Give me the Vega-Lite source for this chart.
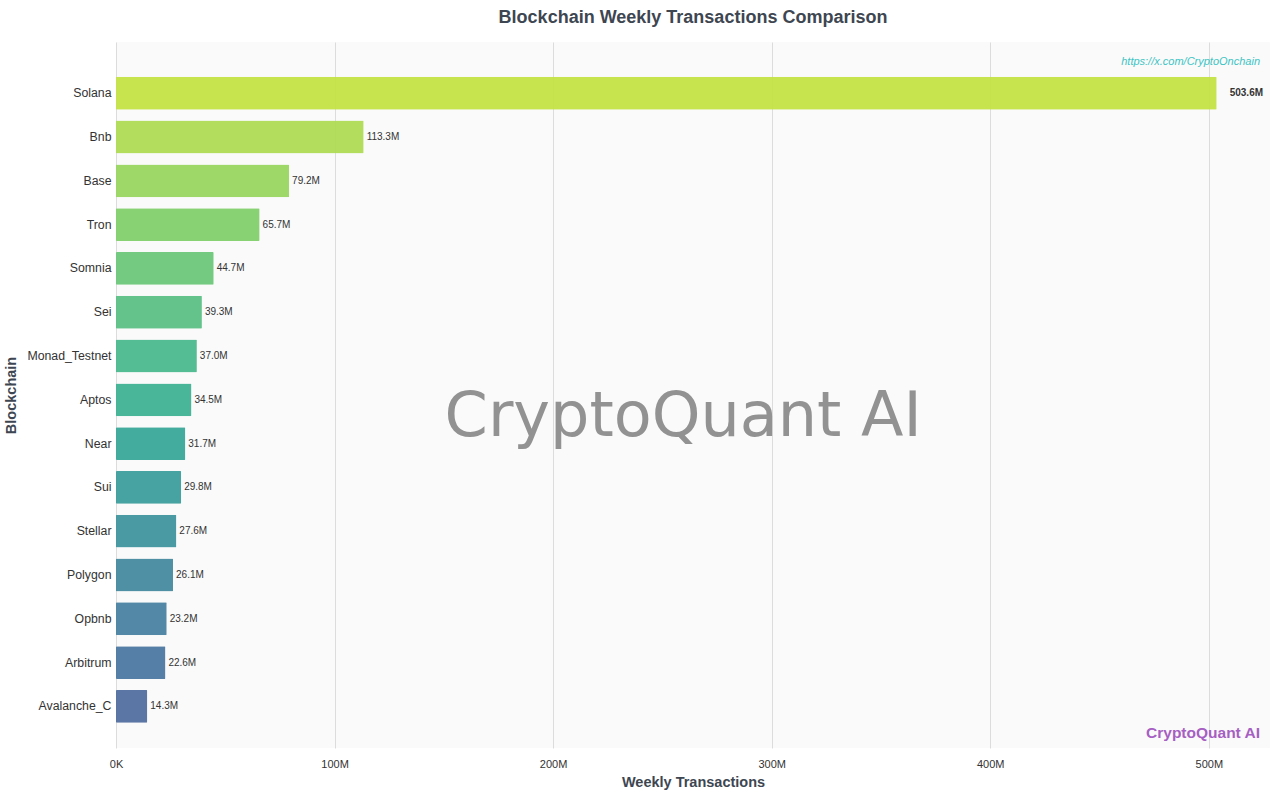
{
  "$schema": "https://vega.github.io/schema/vega-lite/v6.json",
  "width": 1154,
  "height": 706,
  "padding": {"left": 3, "top": 9, "right": 10, "bottom": 5},
  "background": "white",
  "config": {
    "font": "Liberation Sans",
    "view": {"fill": "#fafafa", "stroke": null}
  },
  "title": {
    "text": "Blockchain Weekly Transactions Comparison",
    "fontSize": 18,
    "fontWeight": "bold",
    "color": "#3d4651",
    "offset": 15,
    "anchor": "middle"
  },
  "layer": [
    {
      "data": {"name": "main"},
      "mark": {"type": "bar", "cornerRadius": 1, "opacity": 0.92},
      "encoding": {
        "y": {
          "field": "name",
          "type": "nominal",
          "sort": null,
          "scale": {"paddingInner": 0.25, "paddingOuter": 0.685, "align": 0.58},
          "axis": {
            "title": "Blockchain",
            "titleFontSize": 14.5,
            "titleFontWeight": "bold",
            "titleColor": "#3d4651",
            "titlePadding": 8,
            "labelFontSize": 12.3,
            "labelColor": "#333333",
            "labelPadding": 5,
            "ticks": false,
            "domain": false,
            "grid": false
          }
        },
        "x": {
          "field": "tx",
          "type": "quantitative",
          "scale": {"domain": [0, 528], "nice": false},
          "axis": {
            "title": "Weekly Transactions",
            "titleFontSize": 14.5,
            "titleFontWeight": "bold",
            "titleColor": "#3d4651",
            "titlePadding": 6,
            "values": [0, 100, 200, 300, 400, 500],
            "labelExpr": "datum.value == 0 ? '0K' : datum.value + 'M'",
            "labelFontSize": 11,
            "labelColor": "#333333",
            "labelPadding": 10,
            "labelFlush": false,
            "ticks": false,
            "domain": false,
            "grid": true,
            "gridColor": "#dcdcdc",
            "gridWidth": 1
          }
        },
        "color": {
          "field": "name",
          "type": "nominal",
          "legend": null,
          "scale": {
            "domain": ["Solana", "Bnb", "Base", "Tron", "Somnia", "Sei", "Monad_Testnet", "Aptos", "Near", "Sui", "Stellar", "Polygon", "Opbnb", "Arbitrum", "Avalanche_C"],
            "range": ["#c2e23f", "#acdb4f", "#95d55b", "#7fce67", "#69c676", "#56be80", "#46b78a", "#3ab091", "#33a596", "#379b99", "#3b919b", "#40879d", "#447e9e", "#48749f", "#4d699c"]
          }
        }
      }
    },
    {
      "data": {"name": "main"},
      "transform": [{"filter": "datum.tx < 500"}, {"calculate": "format(datum.tx, '.1f') + 'M'", "as": "lbl"}],
      "mark": {"type": "text", "align": "left", "baseline": "middle", "dx": 3, "fontSize": 10, "color": "#333333"},
      "encoding": {
        "y": {"field": "name", "type": "nominal", "sort": null},
        "x": {"field": "tx", "type": "quantitative"},
        "text": {"field": "lbl", "type": "nominal"}
      }
    },
    {
      "data": {"name": "main"},
      "transform": [{"filter": "datum.tx >= 500"}, {"calculate": "format(datum.tx, '.1f') + 'M'", "as": "lbl"}],
      "mark": {"type": "text", "align": "left", "baseline": "middle", "dx": 13, "fontSize": 10, "fontWeight": "bold", "color": "#333333"},
      "encoding": {
        "y": {"field": "name", "type": "nominal", "sort": null},
        "x": {"field": "tx", "type": "quantitative"},
        "text": {"field": "lbl", "type": "nominal"}
      }
    },
    {
      "data": {"name": "notes"},
      "transform": [{"filter": "datum.kind == 'big'"}],
      "mark": {"type": "text", "align": "center", "baseline": "middle", "fontSize": 62, "font": "DejaVu Sans", "color": "#808080", "opacity": 0.85, "dy": 17},
      "encoding": {
        "x": {"datum": 259.5, "type": "quantitative"},
        "y": {"datum": "Aptos", "type": "nominal"},
        "text": {"field": "t", "type": "nominal"}
      }
    },
    {
      "data": {"name": "notes"},
      "transform": [{"filter": "datum.kind == 'url'"}],
      "mark": {"type": "text", "align": "right", "baseline": "middle", "fontSize": 11, "fontStyle": "italic", "color": "#3cc4c4", "dy": -31, "dx": -10},
      "encoding": {
        "x": {"datum": 528, "type": "quantitative"},
        "y": {"datum": "Solana", "type": "nominal"},
        "text": {"field": "t", "type": "nominal"}
      }
    },
    {
      "data": {"name": "notes"},
      "transform": [{"filter": "datum.kind == 'brand'"}],
      "mark": {"type": "text", "align": "right", "baseline": "middle", "fontSize": 15.5, "fontWeight": "bold", "color": "#a65fc2", "dy": 27, "dx": -10},
      "encoding": {
        "x": {"datum": 528, "type": "quantitative"},
        "y": {"datum": "Avalanche_C", "type": "nominal"},
        "text": {"field": "t", "type": "nominal"}
      }
    }
  ],
  "datasets": {
    "main": [
      {"name": "Solana", "tx": 503.6},
      {"name": "Bnb", "tx": 113.3},
      {"name": "Base", "tx": 79.2},
      {"name": "Tron", "tx": 65.7},
      {"name": "Somnia", "tx": 44.7},
      {"name": "Sei", "tx": 39.3},
      {"name": "Monad_Testnet", "tx": 37.0},
      {"name": "Aptos", "tx": 34.5},
      {"name": "Near", "tx": 31.7},
      {"name": "Sui", "tx": 29.8},
      {"name": "Stellar", "tx": 27.6},
      {"name": "Polygon", "tx": 26.1},
      {"name": "Opbnb", "tx": 23.2},
      {"name": "Arbitrum", "tx": 22.6},
      {"name": "Avalanche_C", "tx": 14.3}
    ],
    "notes": [
      {"kind": "big", "t": "CryptoQuant AI"},
      {"kind": "url", "t": "https://x.com/CryptoOnchain"},
      {"kind": "brand", "t": "CryptoQuant AI"}
    ]
  }
}
